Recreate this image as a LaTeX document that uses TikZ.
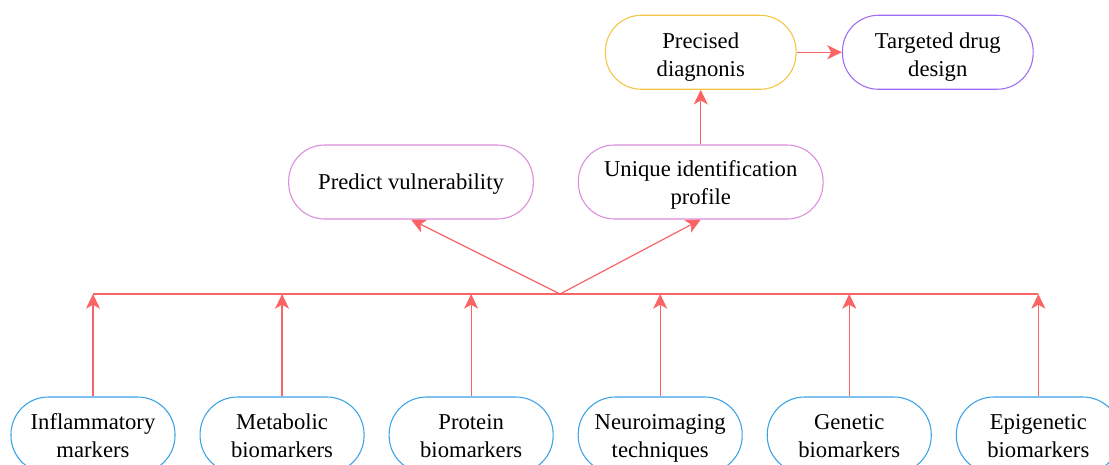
\documentclass[tikz,border=0pt]{standalone}
\usepackage{fontspec}
\setmainfont{Liberation Serif}
\usepackage{tikz}
\usetikzlibrary{arrows.meta,positioning,calc}
\definecolor{linkred}{HTML}{FA6464}
\definecolor{mkblue}{HTML}{3AA2E6}
\definecolor{outpink}{HTML}{DC8CDC}
\definecolor{diagyel}{HTML}{F5C443}
\definecolor{drugpur}{HTML}{9D6CF4}
\tikzstyle{pill}=[rectangle,rounded corners=27pt,line width=0.8pt,align=center,minimum height=55.5pt,font=\fontsize{17}{21}\selectfont,fill=white,text height=34pt,text depth=0pt]
\tikzstyle{mk}=[pill,draw=mkblue,minimum width=123pt,minimum height=57pt,rounded corners=28pt]
\tikzstyle{outc}=[pill,draw=outpink,minimum width=183.5pt]
\tikzset{
	diag/.style={pill,draw=diagyel,minimum width=143pt,text height=36pt},
	drug/.style={pill,draw=drugpur,minimum width=143pt,text height=36pt},
	link/.style={draw=linkred,line width=0.9pt},
	arr/.style={link,-{Stealth[length=11pt,width=10.5pt,inset=3pt]}}
}
\begin{document}
\begin{tikzpicture}[x=0.75pt,y=-0.75pt]
	\useasboundingbox (0,0) rectangle (1109,464);
	\node (inf) [mk] at (93,435) {Inflammatory\\markers};
	\node (met) [mk,right=18pt of inf] {Metabolic\\biomarkers};
	\node (pro) [mk,right=18pt of met] {Protein\\biomarkers};
	\node (neu) [mk,right=18pt of pro] {Neuroimaging\\techniques};
	\node (gen) [mk,right=18pt of neu] {Genetic\\biomarkers};
	\node (epi) [mk,right=18pt of gen] {Epigenetic\\biomarkers};
	\node (pred) [outc,text height=14.6pt,text depth=3.7pt] at (411,182) {Predict vulnerability};
	\node (uniq) [outc,right=33pt of pred] {Unique identification\\profile};
	\node (prec) [diag,above=41pt of uniq] {Precised\\diagnonis};
	\node (targ) [drug,right=34pt of prec] {Targeted drug\\design};
	\coordinate (bus) at (560,294);
	\draw[link] (inf|-bus) -- (epi|-bus);
	\foreach \n in {inf,met,pro,neu,gen,epi}
		\draw[arr] (\n.north) -- (\n|-bus);
	\draw[arr] (bus) -- (pred.south);
	\draw[arr] (bus) -- (uniq.south);
	\draw[arr] (uniq.north) -- (prec.south);
	\draw[arr] (prec.east) -- (targ.west);
\end{tikzpicture}
\end{document}
